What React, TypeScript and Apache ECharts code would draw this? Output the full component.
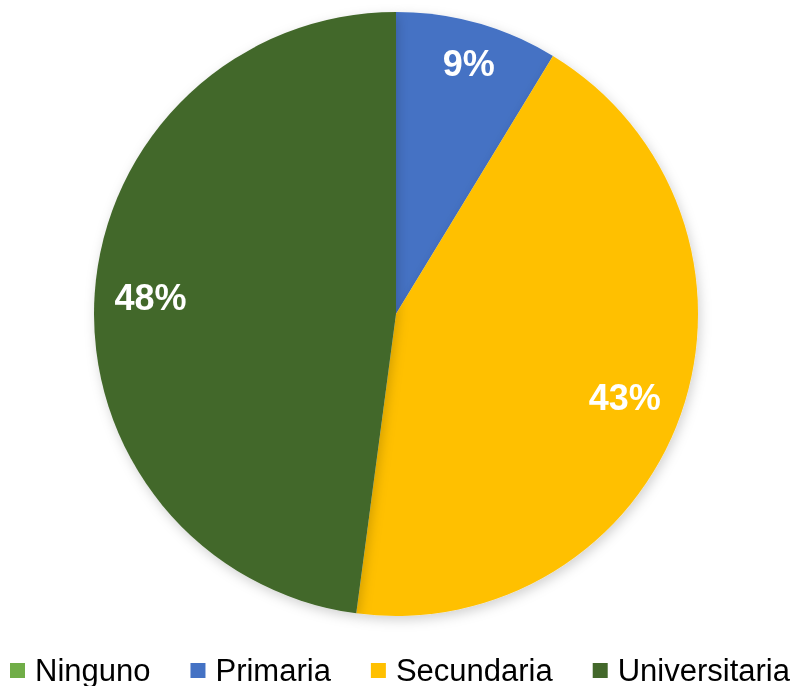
import React, { useEffect, useRef } from "react";
import * as echarts from "echarts";

const categories = ["Ninguno", "Primaria", "Secundaria", "Universitaria"];
const values = [0, 8.7, 43.4, 47.9];
const colors = ["#70AD47", "#4472C4", "#FFC000", "#43682B"];

// label nudges (styling only)
const labelNudge: [number, number][] = [[0, 0], [5, -9], [-8, 0], [5, 0]];

export default function App() {
  const ref = useRef<HTMLDivElement>(null);
  useEffect(() => {
    if (!ref.current) return;
    const chart = echarts.init(ref.current, undefined, { renderer: "svg" });
    const data = categories.map((name, i) => ({
      name,
      value: values[i],
      itemStyle: { color: colors[i] },
    }));
    const labelFormatter = (p: any) =>
      p.value > 0 ? Math.round(p.percent) + "%" : "";
    chart.setOption({
      animation: false,
      legend: {
        data: categories,
        left: 10,
        top: 655,
        padding: 0,
        icon: "rect",
        itemWidth: 15,
        itemHeight: 15,
        itemGap: 40,
        textStyle: {
          fontFamily: "Liberation Sans, Arial, sans-serif",
          fontSize: 31,
          color: "#000",
          lineHeight: 31,
          padding: [0, 0, 0, 5],
        },
      },
      series: [
        {
          type: "pie",
          center: [396, 314],
          radius: [0, 302],
          startAngle: 90,
          clockwise: true,
          silent: true,
          label: { show: false },
          labelLine: { show: false },
          itemStyle: {
            shadowBlur: 12,
            shadowColor: "rgba(0,0,0,0.18)",
            shadowOffsetX: 2,
            shadowOffsetY: 4,
          },
          data,
        },
        {
          type: "pie",
          center: [396, 314],
          radius: [194, 302],
          startAngle: 90,
          clockwise: true,
          silent: true,
          legendHoverLink: false,
          itemStyle: { color: "rgba(0,0,0,0)" },
          label: {
            show: true,
            position: "inside",
            formatter: labelFormatter,
            color: "#fff",
            fontSize: 36,
            fontWeight: "bold",
            fontFamily: "Liberation Sans, Arial, sans-serif",
          },
          labelLine: { show: false },
          data: categories.map((name, i) => ({
            name,
            value: values[i],
            itemStyle: { color: "rgba(0,0,0,0)" },
            label: { offset: labelNudge[i] },
          })),
        },
      ],
    });
    return () => chart.dispose();
  }, []);
  return (
    <div
      ref={ref}
      style={{ position: "fixed", left: 0, top: 0, width: 796, height: 686 }}
    />
  );
}
